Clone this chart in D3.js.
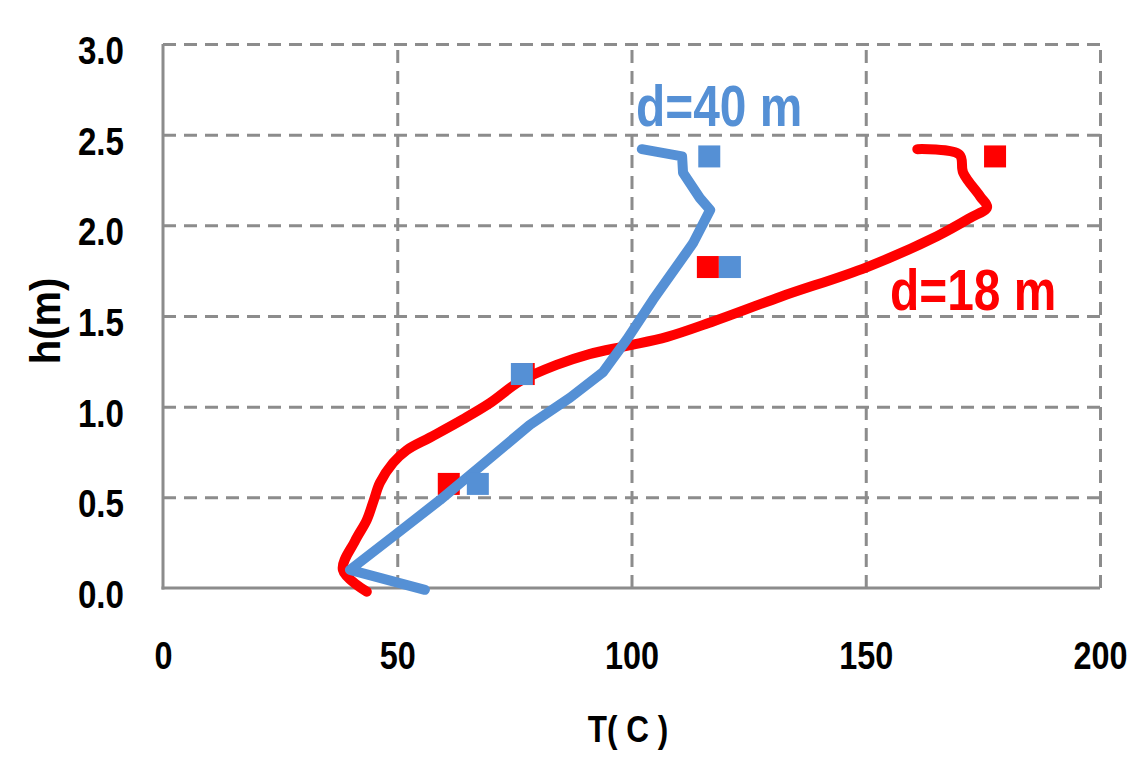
<!DOCTYPE html>
<html>
<head>
<meta charset="utf-8">
<script src="https://cdn.jsdelivr.net/npm/d3@7"></script>
<style>
  body { margin: 0; background: #fff; }
  svg { display: block; }
  text { font-family: "Liberation Sans", Arial, sans-serif; font-weight: bold; }
  .tick text { fill: #000; }
  .grid line { stroke: #8c8c8c; stroke-width: 3; stroke-dasharray: 13,8; }
  .grid .domain { display: none; }
</style>
</head>
<body>
<div id="chart"></div>
<script>
var width = 1133, height = 757;
var margin = {left: 163, right: 33, top: 44, bottom: 169};

// T (C) ticks and h (m) ticks
var xTicks = [0, 50, 100, 150, 200];
var yTicks = [0, 0.5, 1.0, 1.5, 2.0, 2.5, 3.0];

// d=18 m, computed profile
var redT = [43.5, 38.4, 41, 43.5, 45, 46.3, 49.1, 52, 57, 64, 69.8, 76.2, 84, 91, 99, 107.6, 117.4, 131.7, 150.3, 165.2, 172.2, 175.9, 174.4, 170.8, 170, 161];
var redH = [-0.02, 0.10, 0.26, 0.375, 0.485, 0.58, 0.69, 0.76, 0.83, 0.93, 1.02, 1.14, 1.23, 1.29, 1.335, 1.385, 1.47, 1.605, 1.77, 1.94, 2.04, 2.10, 2.16, 2.29, 2.39, 2.42];

// d=40 m, computed profile
var blueT = [55.9, 39.9, 49.9, 59.1, 67.7, 78.3, 86.9, 93.9, 99.0, 104.6, 113.1, 116.8, 114.6, 111.0, 110.8, 102.2];
var blueH = [-0.01, 0.10, 0.30, 0.485, 0.67, 0.90, 1.05, 1.19, 1.37, 1.59, 1.90, 2.085, 2.15, 2.29, 2.38, 2.42];

// measured points
var redPtT = [61, 77, 116.3, 177.6];
var redPtH = [0.574, 1.18, 1.77, 2.38];
var bluePtT = [67.2, 76.6, 121, 116.6];
var bluePtH = [0.574, 1.18, 1.77, 2.38];

var red = "#ff0000", blue = "#5590d5";

var svg = d3.select("#chart").append("svg")
    .attr("width", width)
    .attr("height", height);

svg.append("rect").attr("width", width).attr("height", height).attr("fill", "#fff");

var x = d3.scaleLinear().domain([0, 200]).range([margin.left, width - margin.right]);
var y = d3.scaleLinear().domain([0, 3]).range([height - margin.bottom, margin.top]);

// squeeze text horizontally, the original font is a narrow one
function condense(sel, f) {
    sel.each(function() {
        var w = this.getComputedTextLength();
        d3.select(this).attr("textLength", w * f).attr("lengthAdjust", "spacingAndGlyphs");
    });
}

// dashed grid
svg.append("g")
    .attr("class", "grid")
    .attr("transform", "translate(" + margin.left + ",0)")
    .call(d3.axisLeft(y).tickValues(yTicks.slice(1)).tickSize(-(x(200) - x(0))).tickFormat(""));

svg.append("g")
    .attr("class", "grid")
    .attr("transform", "translate(0," + y(0) + ")")
    .call(d3.axisBottom(x).tickValues(xTicks.slice(1)).tickSize(-(y(0) - y(3))).tickFormat(""));

// solid axis lines
svg.append("line")
    .attr("x1", x(0)).attr("x2", x(0)).attr("y1", y(3)).attr("y2", y(0) + 1.5)
    .attr("stroke", "#8c8c8c").attr("stroke-width", 3);
svg.append("line")
    .attr("x1", x(0) - 1.5).attr("x2", x(200)).attr("y1", y(0)).attr("y2", y(0))
    .attr("stroke", "#8c8c8c").attr("stroke-width", 3);

// tick labels
var yAxis = svg.append("g")
    .attr("transform", "translate(" + margin.left + ",0)")
    .call(d3.axisLeft(y).tickValues(yTicks).tickSize(0).tickPadding(39).tickFormat(d3.format(".1f")));
yAxis.select(".domain").remove();
yAxis.selectAll("text")
    .attr("font-size", 39).attr("font-family", null).attr("dy", "0.5em")
    .call(condense, 0.85);

var xAxis = svg.append("g")
    .attr("transform", "translate(0," + y(0) + ")")
    .call(d3.axisBottom(x).tickValues(xTicks).tickSize(0).tickFormat(d3.format("d")));
xAxis.select(".domain").remove();
xAxis.selectAll("text")
    .attr("font-size", 39).attr("font-family", null).attr("y", 53).attr("dy", "0.72em")
    .call(condense, 0.83);

// axis titles
svg.append("text")
    .attr("transform", "translate(60,321) rotate(-90)")
    .attr("text-anchor", "middle")
    .attr("font-size", 42)
    .text("h(m)")
    .call(condense, 0.95);

svg.append("text")
    .attr("x", 628).attr("y", 742)
    .attr("text-anchor", "middle")
    .attr("font-size", 37)
    .text("T( C )")
    .call(condense, 0.85);

var smooth = d3.line()
    .x(function(d) { return x(d[0]); })
    .y(function(d) { return y(d[1]); })
    .curve(d3.curveCatmullRom.alpha(0.5));

var straight = d3.line()
    .x(function(d) { return x(d[0]); })
    .y(function(d) { return y(d[1]); });

var sq = 22;

function drawSeries(tArr, hArr, pT, pH, color, lineGen) {
    svg.append("path")
        .datum(d3.zip(tArr, hArr))
        .attr("d", lineGen)
        .attr("fill", "none")
        .attr("stroke", color)
        .attr("stroke-width", 10)
        .attr("stroke-linejoin", "round")
        .attr("stroke-linecap", "round");

    svg.append("g").selectAll("rect")
        .data(d3.zip(pT, pH))
        .enter().append("rect")
        .attr("x", function(d) { return x(d[0]) - sq / 2; })
        .attr("y", function(d) { return y(d[1]) - sq / 2; })
        .attr("width", sq)
        .attr("height", sq)
        .attr("fill", color);
}

drawSeries(redT, redH, redPtT, redPtH, red, smooth);
drawSeries(blueT, blueH, bluePtT, bluePtH, blue, straight);

// series labels
svg.append("text")
    .attr("x", 636).attr("y", 126)
    .attr("font-size", 57)
    .attr("fill", blue)
    .text("d=40 m")
    .call(condense, 0.84);

svg.append("text")
    .attr("x", 890).attr("y", 310)
    .attr("font-size", 57)
    .attr("fill", red)
    .text("d=18 m")
    .call(condense, 0.84);
</script>
</body>
</html>
